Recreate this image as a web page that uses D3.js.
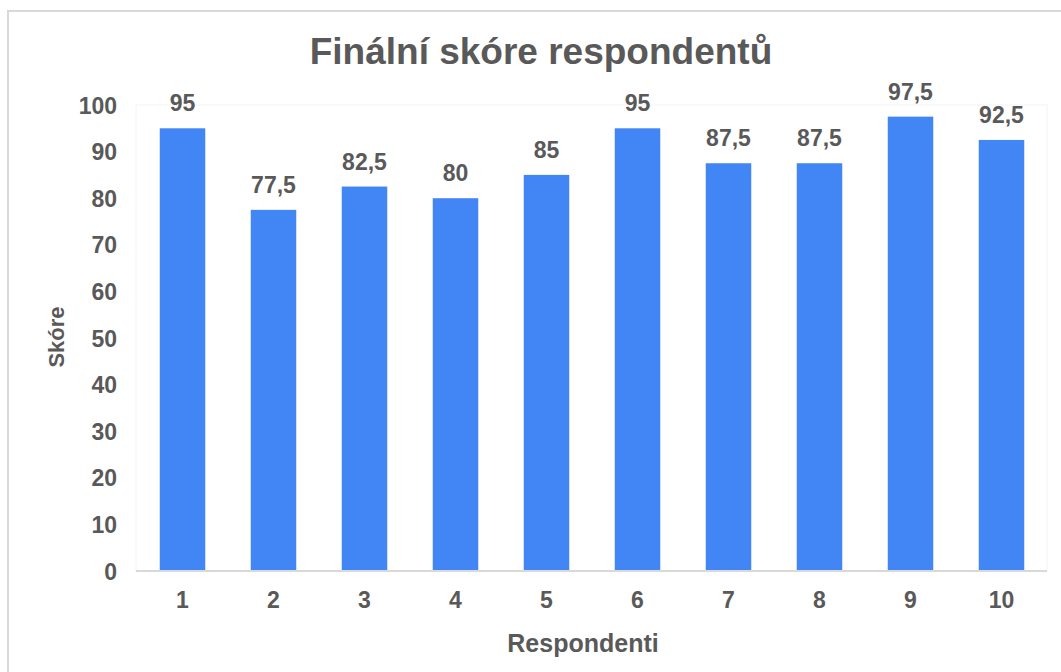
<!DOCTYPE html>
<html><head><meta charset="utf-8">
<script src="https://cdn.jsdelivr.net/npm/d3@7"></script>
<style>body{margin:0;background:#fff}svg{display:block}text{font-family:"Liberation Sans",Arial,sans-serif;font-weight:bold;fill:#595959}</style>
</head><body>
<script>
const categories = ["1","2","3","4","5","6","7","8","9","10"];
const values = [95, 77.5, 82.5, 80, 85, 95, 87.5, 87.5, 97.5, 92.5];
const valueLabels = ["95","77,5","82,5","80","85","95","87,5","87,5","97,5","92,5"];
const yTicks = [0,10,20,30,40,50,60,70,80,90,100];
const title = "Finální skóre respondentů";
const xTitle = "Respondenti";
const yTitle = "Skóre";

const W = 1061, H = 672;
const svg = d3.select("body").append("svg").attr("width", W).attr("height", H);

// chart border
svg.append("rect").attr("x", 8).attr("y", 11).attr("width", W + 10).attr("height", H + 10)
  .attr("fill", "none").attr("stroke", "#d9d9d9").attr("stroke-width", 2);

const plot = {l: 137, r: 1047, t: 105, b: 571};
const x = d3.scaleBand().domain(categories).range([plot.l, plot.r]).paddingInner(0.5).paddingOuter(0.25);
const y = d3.scaleLinear().domain([0, 100]).range([plot.b, plot.t]);

// plot area faint border
svg.append("rect").attr("x", plot.l - 1).attr("y", plot.t).attr("width", plot.r - plot.l + 1).attr("height", plot.b - plot.t)
  .attr("fill", "none").attr("stroke", "#f4f4f4").attr("stroke-width", 1);

svg.append("text").attr("x", 541).attr("y", 64).attr("text-anchor", "middle")
  .style("font-size", "37px").text(title);

// y axis
const yAxis = d3.axisLeft(y).tickValues(yTicks).tickSize(0).tickPadding(0);
const yg = svg.append("g").attr("transform", `translate(117,0)`).call(yAxis);
yg.select(".domain").remove();
yg.selectAll("text").style("font-size", "23px").style("font-family", null).attr("fill", null).attr("dy", "0.35em");

// bars
svg.selectAll("rect.bar").data(values).enter().append("rect").attr("class", "bar")
  .attr("x", (d, i) => x(categories[i])).attr("width", x.bandwidth())
  .attr("y", d => y(d)).attr("height", d => y(0) - y(d)).attr("fill", "#4285f4");

// data labels
svg.selectAll("text.lbl").data(values).enter().append("text").attr("class", "lbl")
  .attr("x", (d, i) => x(categories[i]) + x.bandwidth() / 2).attr("y", d => y(d) - 17)
  .attr("text-anchor", "middle").style("font-size", "23px").text((d, i) => valueLabels[i]);

// x axis
const xAxis = d3.axisBottom(x).tickSize(0).tickPadding(0);
const xg = svg.append("g").attr("transform", `translate(0,${plot.b})`).call(xAxis);
xg.select(".domain").attr("stroke", "#d9d9d9").attr("stroke-width", 2).attr("d", `M${plot.l - 1},0H${plot.r}`);
xg.selectAll("text").style("font-size", "23px").style("font-family", null).attr("fill", null).attr("dy", null).attr("y", 37);

svg.append("text").attr("x", 583).attr("y", 652).attr("text-anchor", "middle").style("font-size", "25px").text(xTitle);
svg.append("text").attr("transform", "translate(64,337) rotate(-90)").attr("text-anchor", "middle")
  .style("font-size", "22px").text(yTitle);
</script>
</body></html>
